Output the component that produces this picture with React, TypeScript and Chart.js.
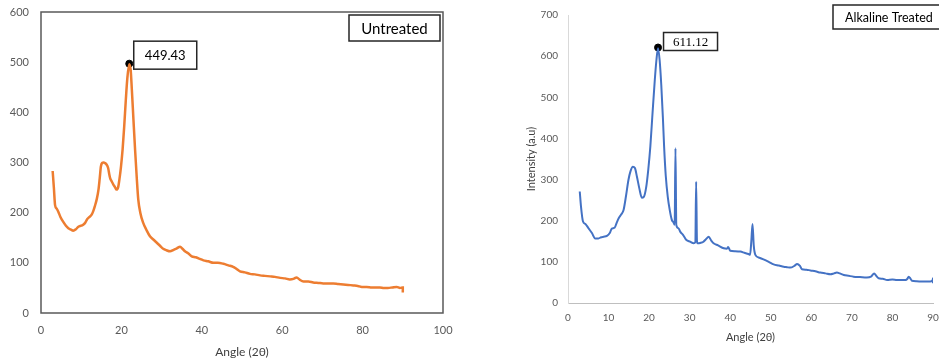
import React, { useEffect, useRef } from "react";
import { Chart, registerables } from "chart.js";

Chart.register(...registerables);

// ---------- DATA ----------
const untreatedAngle = [
  2.9, 3.2, 3.5, 3.9, 4.3, 4.8, 5.5, 6.2, 6.8, 7.5,
  8.0, 8.7, 9.3, 10.0, 10.5, 11.0, 11.4, 12.0, 12.6, 13.0,
  13.4, 13.9, 14.3, 14.6, 14.9, 15.2, 15.6, 15.9, 16.3, 16.7,
  17.0, 17.2, 17.6, 18.0, 18.4, 18.8, 19.2, 19.5, 19.9, 20.3,
  20.7, 21.1, 21.5, 21.95, 22.3, 22.6, 23.0, 23.4, 23.8, 24.2,
  24.7, 25.4, 26.2, 27.1, 28.0, 28.8, 29.6, 30.4, 31.2, 32.1,
  33.0, 33.8, 34.6, 35.2, 35.8, 36.6, 37.5, 38.5, 39.5, 40.4,
  41.6, 42.9, 44.0, 45.4, 46.6, 47.8, 48.6, 49.5, 50.7, 52.0,
  53.2, 54.5, 55.7, 57.0, 58.2, 59.5, 60.7, 61.9, 62.8, 63.6,
  64.4, 65.3, 66.5, 67.7, 69.0, 70.2, 71.4, 72.7, 73.9, 75.2,
  76.4, 77.7, 78.8, 79.8, 81.0, 82.3, 83.3, 84.3, 85.3, 86.3,
  87.4, 88.5, 89.3, 90.0, 90.0,
];
const untreatedIntensity = [
  283, 250, 215, 208, 202, 192, 182, 174, 169, 166,
  164, 167, 172, 174, 176, 180, 186, 191, 196, 203,
  213, 228, 246, 268, 292, 299, 300, 299, 296, 289,
  276, 269, 262, 256, 251, 246, 251, 266, 292, 326,
  372, 425, 470, 496, 485, 445, 385, 326, 272, 226,
  200, 180, 166, 153, 146, 140, 134, 128, 125, 123,
  126, 129, 132, 128, 123, 119, 113, 111, 108, 105,
  103, 100, 100, 98, 95, 92, 88, 83, 81, 78,
  77, 75, 74, 73, 72, 70, 69, 67, 68, 71,
  66, 63, 63, 61, 60, 59, 59, 59, 58, 57,
  56, 55, 54, 52, 52, 51, 51, 51, 50, 50,
  51, 52, 50, 51, 41,
];

const treatedAngle = [
  2.9, 3.2, 3.7, 4.3, 5.1, 5.9, 6.7, 7.5, 8.2, 8.8,
  9.6, 10.3, 10.8, 11.5, 12.0, 12.5, 13.1, 13.7, 14.3, 14.9,
  15.4, 16.0, 16.5, 17.0, 17.6, 18.2, 18.7, 19.3, 19.8, 20.3,
  20.8, 21.4, 21.8, 22.2, 22.6, 23.0, 23.4, 23.7, 24.1, 24.6,
  25.1, 25.6, 26.0, 26.3, 26.5, 26.7, 27.2, 27.7, 28.4, 29.2,
  30.1, 31.0, 31.4, 31.6, 31.8, 32.0, 32.6, 33.4, 34.0, 34.7,
  35.3, 35.9, 37.0, 38.4, 39.2, 39.5, 40.0, 41.2, 42.5, 43.5,
  44.5, 44.9, 45.2, 45.5, 45.8, 46.2, 47.2, 48.2, 49.5, 50.7,
  52.0, 53.2, 54.0, 54.8, 55.8, 56.5, 57.2, 57.7, 58.8, 59.8,
  61.0, 62.2, 63.5, 64.7, 65.6, 66.3, 67.0, 68.0, 69.2, 70.4,
  72.0, 73.7, 74.7, 75.5, 76.0, 76.6, 77.6, 78.7, 80.0, 81.1,
  82.2, 83.2, 83.7, 84.0, 84.4, 84.8, 86.0, 87.3, 88.3, 89.3,
  89.9, 90.0, 90.0,
];
const treatedIntensity = [
  271, 235, 198, 192, 181, 170, 157, 157, 160, 161,
  163, 170, 181, 183, 195, 206, 215, 226, 260, 299,
  320, 331, 328, 307, 278, 256, 258, 283, 325, 380,
  455, 542, 590, 619, 590, 530, 450, 380, 310, 258,
  225, 202, 196, 190, 376, 190, 182, 173, 165, 153,
  149, 145, 148, 295, 150, 145, 146, 149, 155, 161,
  152, 145, 140, 133, 132, 136, 127, 126, 125, 122,
  119, 117, 150, 192, 140, 117, 110, 106, 100, 94,
  91, 88, 87, 86, 90, 95, 90, 82, 81, 79,
  77, 74, 72, 70, 72, 74, 72, 68, 66, 64,
  63, 62, 64, 72, 66, 60, 59, 56, 57, 56,
  56, 56, 59, 64, 60, 54, 53, 52, 52, 52,
  55, 60, 48,
];

const untreatedPeak = [21.95, 497];
const treatedPeak = [22.2, 621];
const peakLabels = ["449.43", "611.12"];
const sampleTitles = ["Untreated", "Alkaline Treated"];
const axisTitles = ["Angle (2θ)", "Intensity (a.u)"];

// ---------- HELPERS ----------
const toPoints = (xs: number[], ys: number[]) => xs.map((x, i) => ({ x, y: ys[i] }));

function drawBox(
  ctx: CanvasRenderingContext2D,
  x: number, y: number, w: number, h: number,
  text: string, font: string, textLeft?: number
) {
  ctx.save();
  ctx.fillStyle = "#ffffff";
  ctx.fillRect(x, y, w, h);
  ctx.strokeStyle = "#262626";
  ctx.lineWidth = 1.5;
  ctx.strokeRect(x, y, w, h);
  ctx.fillStyle = "#000000";
  ctx.font = font;
  ctx.textBaseline = "middle";
  if (textLeft !== undefined) {
    ctx.textAlign = "left";
    ctx.fillText(text, x + textLeft, y + h / 2 + 1);
  } else {
    ctx.textAlign = "center";
    ctx.fillText(text, x + w / 2, y + h / 2 + 1);
  }
  ctx.restore();
}

const zeroPadY = (w: number) => (s: any) => {
  s.width = w;
  s.paddingTop = 0;
  s.paddingBottom = 0;
};
const zeroPadX = (h: number) => (s: any) => {
  s.height = h;
  s.paddingLeft = 0;
  s.paddingRight = 0;
};

const leftPlugin = {
  id: "leftDecor",
  afterDraw(chart: any) {
    const { ctx, chartArea, scales } = chart;
    ctx.save();
    ctx.strokeStyle = "#595959";
    ctx.lineWidth = 1.5;
    ctx.strokeRect(chartArea.left, chartArea.top, chartArea.right - chartArea.left, chartArea.bottom - chartArea.top);
    ctx.restore();
    drawBox(ctx, chartArea.right - 94, chartArea.top + 3, 91, 26, sampleTitles[0], "15px Lato");
    const px = scales.x.getPixelForValue(untreatedPeak[0]);
    const py = scales.y.getPixelForValue(untreatedPeak[1]);
    drawBox(ctx, px + 4.5, py - 22.5, 63, 28, peakLabels[0], "13px Lato");
  },
};

const rightPlugin = {
  id: "rightDecor",
  afterDraw(chart: any) {
    const { ctx, chartArea, scales } = chart;
    drawBox(ctx, chartArea.right - 100, chartArea.top - 10, 125, 24, sampleTitles[1], "12.5px Lato", 12);
    const px = scales.x.getPixelForValue(treatedPeak[0]);
    const py = scales.y.getPixelForValue(treatedPeak[1]);
    drawBox(ctx, px + 5.5, py - 15, 54, 18, peakLabels[1], "13px 'Liberation Serif'");
  },
};

function LeftChart() {
  const ref = useRef<HTMLCanvasElement>(null);
  useEffect(() => {
    const chart = new Chart(ref.current!, {
      type: "line",
      data: {
        datasets: [
          {
            data: toPoints(untreatedAngle, untreatedIntensity),
            borderColor: "#ED7D31",
            borderWidth: 2.5,
            pointRadius: 0,
            cubicInterpolationMode: "monotone",
          },
          {
            data: [{ x: untreatedPeak[0], y: untreatedPeak[1] }],
            showLine: false,
            pointRadius: 3.5,
            backgroundColor: "#000000",
            borderColor: "#000000",
          },
        ],
      },
      options: {
        responsive: false,
        animation: false,
        layout: { padding: { left: 0, right: 27, top: 12, bottom: 0 } },
        plugins: { legend: { display: false }, tooltip: { enabled: false } },
        scales: {
          x: {
            type: "linear",
            min: 0,
            max: 100,
            ticks: { stepSize: 20, padding: 11, color: "#595959", font: { family: "Lato", size: 11 } },
            grid: { display: false, drawTicks: false },
            border: { display: false },
            title: { display: true, text: axisTitles[0], color: "#404040", font: { family: "Lato", size: 12 }, padding: { top: 0, bottom: 0 } },
            afterFit: zeroPadX(46),
          },
          y: {
            min: 0,
            max: 600,
            ticks: { stepSize: 100, padding: 12, color: "#595959", font: { family: "Lato", size: 11 } },
            grid: { display: false, drawTicks: false },
            border: { display: false },
            afterFit: zeroPadY(41),
          },
        },
      },
      plugins: [leftPlugin],
    } as any);
    return () => chart.destroy();
  }, []);
  return <canvas ref={ref} width={470} height={359} />;
}

function RightChart() {
  const ref = useRef<HTMLCanvasElement>(null);
  useEffect(() => {
    const chart = new Chart(ref.current!, {
      type: "line",
      data: {
        datasets: [
          {
            data: toPoints(treatedAngle, treatedIntensity),
            borderColor: "#4472C4",
            borderWidth: 2,
            pointRadius: 0,
            cubicInterpolationMode: "monotone",
          },
          {
            data: [{ x: treatedPeak[0], y: treatedPeak[1] }],
            showLine: false,
            pointRadius: 3.5,
            backgroundColor: "#000000",
            borderColor: "#000000",
          },
        ],
      },
      options: {
        responsive: false,
        animation: false,
        layout: { padding: { left: 45, right: 6, top: 15, bottom: 15 } },
        plugins: { legend: { display: false }, tooltip: { enabled: false } },
        scales: {
          x: {
            type: "linear",
            min: 0,
            max: 90,
            ticks: { stepSize: 10, padding: 9, color: "#595959", font: { family: "Lato", size: 10 } },
            grid: { display: false, drawTicks: false },
            border: { display: true, color: "#bfbfbf", width: 1 },
            title: { display: true, text: axisTitles[0], color: "#404040", font: { family: "Lato", size: 11 }, padding: { top: 0, bottom: 0 } },
            afterFit: zeroPadX(41),
          },
          y: {
            min: 0,
            max: 700,
            ticks: { stepSize: 100, padding: 10, color: "#595959", font: { family: "Lato", size: 10 } },
            grid: { display: false, drawTicks: false },
            border: { display: true, color: "#d9d9d9", width: 1 },
            title: { display: true, text: axisTitles[1], color: "#404040", font: { family: "Lato", size: 11 }, padding: { top: 0, bottom: 0 } },
            afterFit: zeroPadY(43),
          },
        },
      },
      plugins: [rightPlugin],
    } as any);
    return () => chart.destroy();
  }, []);
  return <canvas ref={ref} width={459} height={359} />;
}

export default function App() {
  return (
    <div style={{ position: "absolute", left: 0, top: 0, width: 939, height: 359, background: "#ffffff", overflow: "hidden" }}>
      <div style={{ position: "absolute", left: 0, top: 0, width: 470, height: 359 }}>
        <LeftChart />
      </div>
      <div style={{ position: "absolute", left: 480, top: 0, width: 459, height: 359 }}>
        <RightChart />
      </div>
    </div>
  );
}
